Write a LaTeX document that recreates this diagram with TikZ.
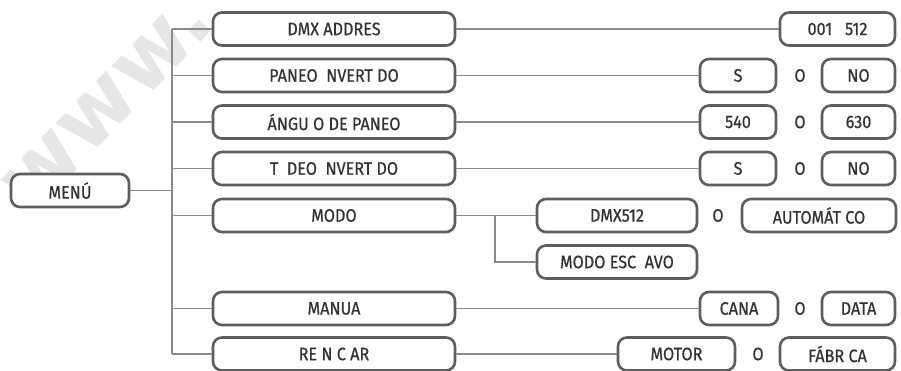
\documentclass[tikz,border=0pt]{standalone}
\usepackage{fontspec}
\setmainfont{Fira Sans}[FakeStretch=0.9, FakeBold=0.6]
\newfontfamily\wmfont{DejaVu Sans}
\definecolor{boxline}{HTML}{5E5E5E}
\definecolor{conn}{HTML}{8A8A8A}
\definecolor{txt}{HTML}{333333}
\definecolor{wm}{HTML}{E6E6E6}
\tikzset{
  box/.style={draw=boxline, line width=2.6pt, rounded corners=9pt, minimum height=33pt,
    inner sep=0pt, text=txt, font=\fontsize{18}{18}\selectfont, fill=white},
  ortext/.style={text=txt, font=\fontsize{18}{18}\selectfont, inner sep=0pt},
  conline/.style={draw=conn, line width=1.6pt},
}
\begin{document}
\begin{tikzpicture}[x=1pt,y=-1pt]
\useasboundingbox (0,0) rectangle (901,370);
\fill[white] (0,0) rectangle (901,370);
% watermark
\node[text=wm, font=\wmfont\bfseries\fontsize{86}{86}\selectfont, rotate=46, inner sep=0pt] (wmark) at (108,104) {www.};
% root
\node[box, minimum width=118pt] (menu) at (70,190.5) {MEN\'U};
% level 1
\node[box, minimum width=242pt] (dmx)  at (334,29)  {DMX ADDRES};
\node[box, minimum width=242pt] (pan)  at (334,75.5) {PANEO\ \ NVERT DO};
\node[box, minimum width=242pt] (ang)  at (334,122) {\'ANGU\ O DE PANEO};
\node[box, minimum width=242pt] (til)  at (334,168.5) {T\ \ DEO\ \ NVERT DO};
\node[box, minimum width=242pt] (modo) at (334,215.5) {MODO};
\node[box, minimum width=242pt] (man)  at (334,308.5) {MANUA};
\node[box, minimum width=242pt] (rein) at (334,354) {RE N C AR};
% right side
\node[box, minimum width=115pt] (addr) at (837.5,29) {001\ \ \ 512};
\node[box, minimum width=76pt] (panS) at (738,75.5) {S};
\node[ortext] (panO) at (800,75.5) {O};
\node[box, minimum width=73pt] (panN) at (858.5,75.5) {NO};
\node[box, minimum width=76pt] (angA) at (738,122) {540};
\node[ortext] (angO) at (800,122) {O};
\node[box, minimum width=73pt] (angB) at (858.5,122) {630};
\node[box, minimum width=76pt] (tilS) at (738,168.5) {S};
\node[ortext] (tilO) at (800,168.5) {O};
\node[box, minimum width=73pt] (tilN) at (858.5,168.5) {NO};
\node[box, minimum width=160pt] (dmxm) at (617,215.5) {DMX512};
\node[ortext] (modO) at (718,215.5) {O};
\node[box, minimum width=154pt] (auto) at (819,215.5) {AUTOM\'AT CO};
\node[box, minimum width=160pt] (esc) at (617,262) {MODO ESC\ \ AVO};
\node[box, minimum width=78pt] (can) at (739,308.5) {CANA};
\node[ortext] (manO) at (800,308.5) {O};
\node[box, minimum width=73pt] (dat) at (858.5,308.5) {DATA};
\node[box, minimum width=117pt] (mot) at (676.5,354) {MOTOR};
\node[ortext] (reiO) at (758,354) {O};
\node[box, minimum width=115pt] (fab) at (837.5,354) {F\'ABR CA};
% connectors
\coordinate (tj) at (172,190.5);
\coordinate (mj) at (495,215.5);
\draw[conline] (menu.east) -- (tj);
\draw[conline] (tj |- dmx) -- (tj |- rein);
\foreach \n in {dmx,pan,ang,til,modo,man,rein}{
  \draw[conline] (tj |- \n) -- (\n.west);
}
\draw[conline] (dmx.east) -- (addr.west);
\draw[conline] (pan.east) -- (panS.west);
\draw[conline] (ang.east) -- (angA.west);
\draw[conline] (til.east) -- (tilS.west);
\draw[conline] (modo.east) -- (dmxm.west);
\draw[conline] (mj) |- (esc.west);
\draw[conline] (man.east) -- (can.west);
\draw[conline] (rein.east) -- (mot.west);
\end{tikzpicture}
\end{document}
